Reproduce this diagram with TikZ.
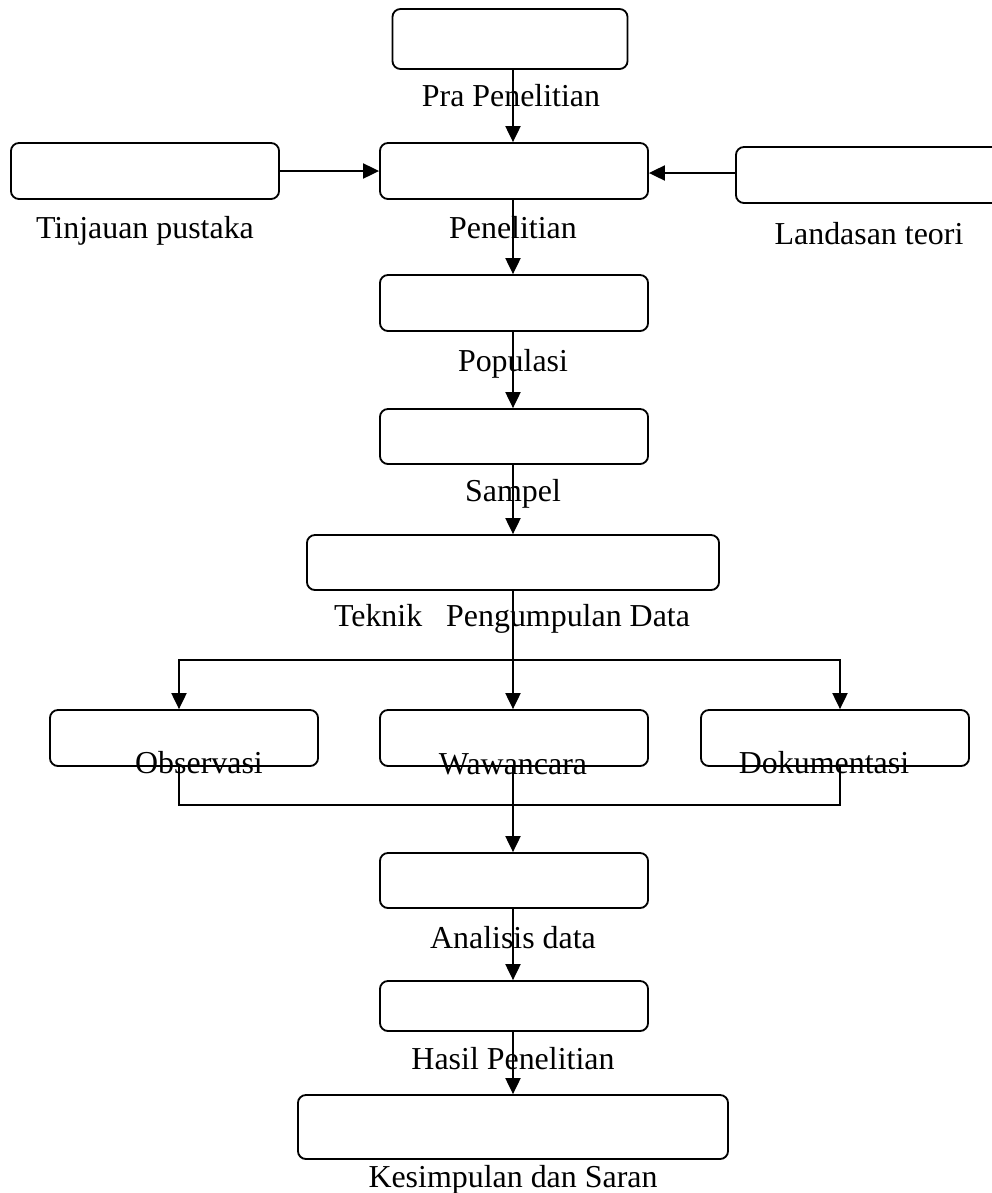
\documentclass[tikz,border=0pt]{standalone}
\usepackage{fontspec}
\setmainfont{Liberation Serif}
\usetikzlibrary{arrows.meta}

\begin{document}
\begin{tikzpicture}[x=0.025cm, y=-0.025cm,
    every node/.style={font=\fontsize{22.7}{26}\selectfont},
    box/.style={draw, line width=1.3pt, rounded corners=0.2cm, inner sep=0pt, minimum width=6.7cm, minimum height=1.4cm},
    lbl/.style={inner sep=0pt, text height=0.68em, text depth=0.2em},
    arr/.style={line width=1pt, -{Triangle[length=0.4cm, width=0.38cm]}}]
    \useasboundingbox (0,0) rectangle (992,1193);

    % Boxes
    \node[box, minimum width=5.875cm, minimum height=1.5cm] (pra) at (510,39) {};
    \node[box] (pen) at (514,171) {};
    \node[box] (tin) at (145,171) {};
    \node[box] (lan) at (870,175) {};
    \node[box] (pop) at (514,303) {};
    \node[box, minimum height=1.375cm] (sam) at (514,436.5) {};
    \node[box, minimum width=10.3cm, minimum height=1.375cm] (tek) at (513,562.5) {};
    \node[box] (obs) at (184,738) {};
    \node[box] (waw) at (514,738) {};
    \node[box] (dok) at (835,738) {};
    \node[box, minimum height=1.375cm] (ana) at (514,880.5) {};
    \node[box, minimum height=1.25cm] (has) at (514,1006) {};
    \node[box, minimum width=10.75cm, minimum height=1.6cm] (kes) at (513,1127) {};

    % Labels
    \node[lbl] (praL) at (511,103) {Pra Penelitian};
    \node[lbl] (tinL) at (145,235) {Tinjauan pustaka};
    \node[lbl] (penL) at (513,235) {Penelitian};
    \node[lbl] (lanL) at (869,241) {Landasan teori};
    \node[lbl] (popL) at (513,368) {Populasi};
    \node[lbl] (samL) at (513,498) {Sampel};
    \node[lbl] (tekL) at (512,623) {Teknik\ \ \ Pengumpulan Data};
    \node[lbl] (obsL) at (199,770) {Observasi};
    \node[lbl] (wawL) at (513,771) {Wawancara};
    \node[lbl] (dokL) at (824,770) {Dokumentasi};
    \node[lbl] (anaL) at (513,945) {Analisis data};
    \node[lbl] (hasL) at (513,1066) {Hasil Penelitian};
    \node[lbl] (kesL) at (513,1184) {Kesimpulan dan Saran};

    % Connectors
    \coordinate (split) at (513,660);
    \coordinate (merge) at (513,805);
    \draw[arr] (pra.south -| 513,0) -- (pen.north -| 513,0);
    \draw[arr] (tin.east) -- (pen.west);
    \draw[arr] (lan.west |- 0,173) -- (pen.east |- 0,173);
    \draw[arr] (pen.south -| 513,0) -- (pop.north -| 513,0);
    \draw[arr] (pop.south -| 513,0) -- (sam.north -| 513,0);
    \draw[arr] (sam.south -| 513,0) -- (tek.north);
    \draw[arr] (tek.south) -- (waw.north -| 513,0);
    \draw[arr] (split) -| ([xshift=-0.125cm]obs.north);
    \draw[arr] (split) -| ([xshift=0.125cm]dok.north);
    \draw[line width=1pt] ([xshift=-0.125cm]obs.south) |- (merge) -| ([xshift=0.125cm]dok.south);
    \draw[arr] (waw.south -| 513,0) -- (ana.north -| 513,0);
    \draw[arr] (ana.south -| 513,0) -- (has.north -| 513,0);
    \draw[arr] (has.south -| 513,0) -- (kes.north);
\end{tikzpicture}
\end{document}
